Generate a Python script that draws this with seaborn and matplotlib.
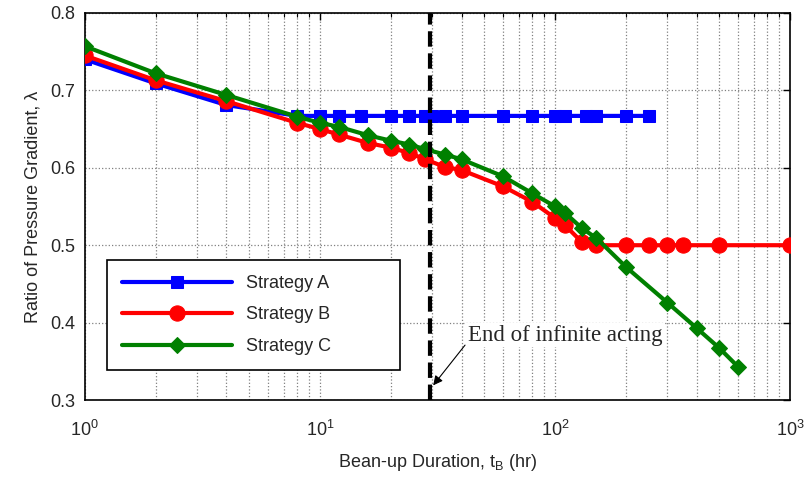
import numpy as np
import pandas as pd
import matplotlib
matplotlib.use("Agg")
import matplotlib.pyplot as plt
from matplotlib.ticker import LogLocator, NullFormatter, FixedLocator
import seaborn as sns

# Bean-up duration (hr) and pressure-gradient ratio for each strategy
t_a = [1, 2, 4, 8, 10, 12, 15, 20, 24, 28, 30, 34, 40, 60, 80, 100, 110, 135, 150, 200, 250]
lam_a = [0.740, 0.709, 0.681, 0.667, 0.667, 0.667, 0.667, 0.667, 0.667, 0.667, 0.667,
         0.667, 0.667, 0.667, 0.667, 0.667, 0.667, 0.667, 0.667, 0.667, 0.667]

t_b = [1, 2, 4, 8, 10, 12, 16, 20, 24, 28, 34, 40, 60, 80, 100, 110, 130, 150,
       200, 250, 300, 350, 500, 1000]
lam_b = [0.745, 0.713, 0.686, 0.658, 0.650, 0.643, 0.632, 0.626, 0.619, 0.611, 0.601,
         0.597, 0.576, 0.556, 0.535, 0.526, 0.504, 0.500, 0.500, 0.500, 0.500, 0.500,
         0.500, 0.500]

t_c = [1, 2, 4, 8, 10, 12, 16, 20, 24, 28, 34, 40, 60, 80, 100, 110, 130, 150,
       200, 300, 400, 500, 600]
lam_c = [0.757, 0.722, 0.694, 0.666, 0.658, 0.653, 0.642, 0.635, 0.630, 0.624, 0.617,
         0.611, 0.589, 0.567, 0.550, 0.542, 0.522, 0.509, 0.472, 0.426, 0.393, 0.367,
         0.343]

labels = ["Strategy A", "Strategy B", "Strategy C"]
t_infinite_end = 29.5
annotation = "End of infinite acting"

sns.set_style("white")
plt.rcParams["font.family"] = ["Liberation Sans", "DejaVu Sans"]
plt.rcParams["mathtext.fontset"] = "custom"
plt.rcParams["mathtext.rm"] = "Liberation Sans"
plt.rcParams["mathtext.it"] = "Liberation Sans:italic"

fig = plt.figure(figsize=(8.08, 4.78), dpi=100)
ax = fig.add_axes([0.105, 0.163, 0.873, 0.810])

series = [
    (t_a, lam_a, labels[0], "#0000ff", "s", 9),
    (t_b, lam_b, labels[1], "#ff0000", "o", 11),
    (t_c, lam_c, labels[2], "#008000", "D", 8.5),
]
for t, lam, lab, col, mk, ms in series:
    df = pd.DataFrame({"t": t, "lam": lam})
    sns.lineplot(data=df, x="t", y="lam", ax=ax, color=col, lw=3, marker=mk,
                 markersize=ms, markeredgecolor=col, markerfacecolor=col,
                 label=lab, sort=False, zorder=3)

ax.axvline(t_infinite_end, color="black", ls="--", lw=3, zorder=4)

# label for the end of the infinite-acting period, with a pointer to the line
ax.text(42.5, 0.384, annotation, fontsize=16.5, family="Liberation Serif",
        ha="left", va="center", zorder=5,
        bbox=dict(fc="white", ec="none", pad=1))
ax.annotate("", xy=(30.3, 0.319), xytext=(41.4, 0.371),
            arrowprops=dict(arrowstyle="-|>", color="black", lw=0.8,
                            mutation_scale=14, shrinkA=0, shrinkB=0),
            zorder=5)

ax.set_xscale("log")
ax.set_xlim(1, 1000)
ax.set_ylim(0.3, 0.8)
ax.set_yticks([0.3, 0.4, 0.5, 0.6, 0.7, 0.8])
ax.xaxis.set_major_locator(FixedLocator([1, 10, 100, 1000]))
ax.xaxis.set_minor_locator(LogLocator(base=10, subs=np.arange(2, 10)))
ax.xaxis.set_minor_formatter(NullFormatter())
ax.set_xticklabels([r"$10^0$", r"$10^1$", r"$10^2$", r"$10^3$"])

ax.tick_params(axis="both", which="both", direction="in", top=True, right=True,
               labelsize=13, color="black")
ax.tick_params(axis="both", which="major", length=5, width=1)
ax.tick_params(axis="x", which="minor", length=3, width=0.8)
ax.tick_params(axis="x", which="major", pad=14)
ax.tick_params(axis="y", which="major", pad=7)

ax.grid(True, which="major", axis="both", color="#808080", ls=":", lw=0.9)
ax.grid(True, which="minor", axis="x", color="#808080", ls=":", lw=0.9)
for s in ax.spines.values():
    s.set_color("black")
    s.set_linewidth(1.2)

ax.set_xlabel(r"Bean-up Duration, t$_\mathregular{B}$ (hr)", fontsize=13, labelpad=9)
ax.set_ylabel("Ratio of Pressure Gradient, λ", fontsize=13, labelpad=6)

leg = ax.legend(loc="lower left", bbox_to_anchor=(0.031, 0.077, 0.416, 0.266),
                mode="expand", fontsize=13, handlelength=6.1, handletextpad=0.75,
                labelspacing=0.8, borderpad=0.85, borderaxespad=0, fancybox=False,
                framealpha=1, edgecolor="black")
leg.get_frame().set_linewidth(1.2)
leg._legend_box.align = "left"

fig.savefig("out.png", dpi=100)
